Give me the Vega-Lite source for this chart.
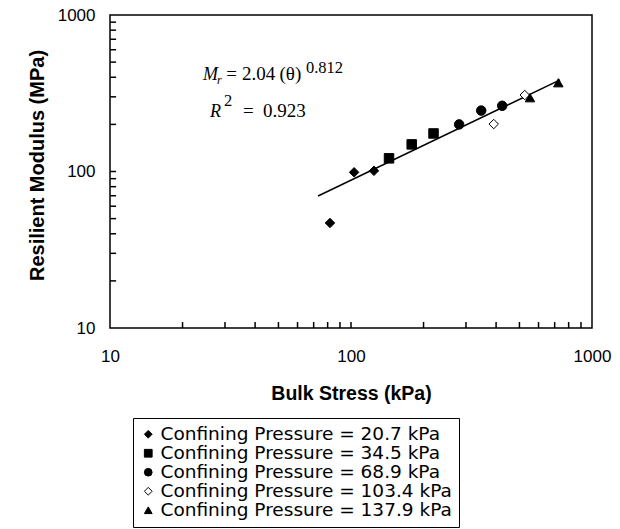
{
  "$schema": "https://vega.github.io/schema/vega-lite/v6.json",
  "width": 482,
  "height": 313,
  "autosize": {"type": "none"},
  "padding": {"left": 110, "top": 15, "right": 28, "bottom": 201},
  "config": {
    "view": {"stroke": "black", "strokeWidth": 1.5},
    "font": "Liberation Sans",
    "background": "white"
  },
  "datasets": {
    "points": [
      {"bulk": 81.8, "mr": 46.9, "series": "Confining Pressure = 20.7 kPa"},
      {"bulk": 103, "mr": 98.8, "series": "Confining Pressure = 20.7 kPa"},
      {"bulk": 124.5, "mr": 101, "series": "Confining Pressure = 20.7 kPa"},
      {"bulk": 143.8, "mr": 121.4, "series": "Confining Pressure = 34.5 kPa"},
      {"bulk": 178.6, "mr": 149, "series": "Confining Pressure = 34.5 kPa"},
      {"bulk": 220, "mr": 175, "series": "Confining Pressure = 34.5 kPa"},
      {"bulk": 281, "mr": 200, "series": "Confining Pressure = 68.9 kPa"},
      {"bulk": 347, "mr": 245, "series": "Confining Pressure = 68.9 kPa"},
      {"bulk": 424, "mr": 263, "series": "Confining Pressure = 68.9 kPa"},
      {"bulk": 391, "mr": 201, "series": "Confining Pressure = 103.4 kPa"},
      {"bulk": 526, "mr": 308, "series": "Confining Pressure = 103.4 kPa"},
      {"bulk": 553, "mr": 296, "series": "Confining Pressure = 137.9 kPa"},
      {"bulk": 725, "mr": 369, "series": "Confining Pressure = 137.9 kPa"}
    ],
    "fit": [
      {"bulk": 73, "mr": 69.7},
      {"bulk": 737, "mr": 385}
    ],
    "xTicks": [
      {"v": 20, "a": 10, "b": 10.92}, {"v": 30, "a": 10, "b": 10.92}, {"v": 40, "a": 10, "b": 10.92},
      {"v": 50, "a": 10, "b": 10.92}, {"v": 60, "a": 10, "b": 10.92}, {"v": 70, "a": 10, "b": 10.92},
      {"v": 80, "a": 10, "b": 10.92}, {"v": 90, "a": 10, "b": 10.92}, {"v": 100, "a": 10, "b": 10.92},
      {"v": 200, "a": 10, "b": 10.92}, {"v": 300, "a": 10, "b": 10.92}, {"v": 400, "a": 10, "b": 10.92},
      {"v": 500, "a": 10, "b": 10.92}, {"v": 600, "a": 10, "b": 10.92}, {"v": 700, "a": 10, "b": 10.92},
      {"v": 800, "a": 10, "b": 10.92}, {"v": 900, "a": 10, "b": 10.92}
    ],
    "yTicks": [
      {"v": 20, "a": 10, "b": 10.6}, {"v": 30, "a": 10, "b": 10.6}, {"v": 40, "a": 10, "b": 10.6},
      {"v": 50, "a": 10, "b": 10.6}, {"v": 60, "a": 10, "b": 10.6}, {"v": 70, "a": 10, "b": 10.6},
      {"v": 80, "a": 10, "b": 10.6}, {"v": 90, "a": 10, "b": 10.6}, {"v": 100, "a": 10, "b": 10.6},
      {"v": 200, "a": 10, "b": 10.6}, {"v": 300, "a": 10, "b": 10.6}, {"v": 400, "a": 10, "b": 10.6},
      {"v": 500, "a": 10, "b": 10.6}, {"v": 600, "a": 10, "b": 10.6}, {"v": 700, "a": 10, "b": 10.6},
      {"v": 800, "a": 10, "b": 10.6}, {"v": 900, "a": 10, "b": 10.6}
    ],
    "eqItalic": [
      {"bulk": 24.3, "mr": 384, "t": "M"},
      {"bulk": 26.0, "mr": 223, "t": "R"}
    ],
    "eqSub": [
      {"bulk": 27.8, "mr": 362, "t": "r"}
    ],
    "eqMain": [
      {"bulk": 30.4, "mr": 384, "t": "="},
      {"bulk": 35.3, "mr": 384, "t": "2.04"},
      {"bulk": 50.5, "mr": 384, "t": "(θ)"},
      {"bulk": 35.6, "mr": 223, "t": "="},
      {"bulk": 43.1, "mr": 223, "t": "0.923"}
    ],
    "eqSup": [
      {"bulk": 65, "mr": 426, "t": "0.812"},
      {"bulk": 29.7, "mr": 262, "t": "2"}
    ]
  },
  "layer": [
    {
      "data": {"name": "fit"},
      "mark": {"type": "line", "color": "black", "strokeWidth": 1.5},
      "encoding": {
        "x": {"field": "bulk", "type": "quantitative", "scale": {"type": "log", "domain": [10, 1000], "nice": false}},
        "y": {"field": "mr", "type": "quantitative", "scale": {"type": "log", "domain": [10, 1000], "nice": false}}
      }
    },
    {
      "data": {"name": "xTicks"},
      "mark": {"type": "rule", "color": "black", "strokeWidth": 1.5, "opacity": 1},
      "encoding": {
        "x": {"field": "v", "type": "quantitative"},
        "y": {"field": "a", "type": "quantitative"},
        "y2": {"field": "b"}
      }
    },
    {
      "data": {"name": "yTicks"},
      "mark": {"type": "rule", "color": "black", "strokeWidth": 1.5, "opacity": 1},
      "encoding": {
        "y": {"field": "v", "type": "quantitative"},
        "x": {"field": "a", "type": "quantitative"},
        "x2": {"field": "b"}
      }
    },
    {
      "data": {"name": "points"},
      "mark": {"type": "point", "filled": true, "stroke": "black", "strokeWidth": 1, "size": 90, "opacity": 1},
      "encoding": {
        "x": {
          "field": "bulk", "type": "quantitative",
          "scale": {"type": "log", "domain": [10, 1000], "nice": false},
          "axis": {
            "title": "Bulk Stress (kPa)",
            "values": [10, 100, 1000],
            "format": "d",
            "labelOverlap": false,
            "labelFlush": false,
            "labelFontSize": 17,
            "labelColor": "black",
            "labelPadding": 20,
            "ticks": false,
            "domain": false,
            "grid": false,
            "titleFontSize": 19.5,
            "titleFontWeight": "bold",
            "titleColor": "black",
            "titlePadding": 20
          }
        },
        "y": {
          "field": "mr", "type": "quantitative",
          "scale": {"type": "log", "domain": [10, 1000], "nice": false},
          "axis": {
            "title": "Resilient Modulus (MPa)",
            "values": [10, 100, 1000],
            "format": "d",
            "labelOverlap": false,
            "labelFlush": false,
            "labelFontSize": 17,
            "labelColor": "black",
            "labelPadding": 15,
            "ticks": false,
            "domain": false,
            "grid": false,
            "titleFontSize": 20,
            "titleFontWeight": "bold",
            "titleColor": "black",
            "titlePadding": 10,
            "titleY": 150
          }
        },
        "shape": {
          "field": "series", "type": "nominal",
          "scale": {
            "domain": ["Confining Pressure = 20.7 kPa", "Confining Pressure = 34.5 kPa", "Confining Pressure = 68.9 kPa", "Confining Pressure = 103.4 kPa", "Confining Pressure = 137.9 kPa"],
            "range": ["diamond", "square", "circle", "diamond", "triangle-up"]
          },
          "legend": {
            "title": null,
            "orient": "none",
            "legendX": 23,
            "legendY": 403,
            "strokeColor": "black",
            "padding": 7,
            "labelFont": "DejaVu Sans",
            "labelFontSize": 18.5,
            "labelColor": "black",
            "labelLimit": 400,
            "labelOffset": 3,
            "symbolOffset": -1,
            "symbolSize": 60,
            "symbolStrokeColor": "black",
            "symbolStrokeWidth": 1,
            "rowPadding": 0,
            "fillColor": "white"
          }
        },
        "fill": {
          "field": "series", "type": "nominal",
          "scale": {
            "domain": ["Confining Pressure = 20.7 kPa", "Confining Pressure = 34.5 kPa", "Confining Pressure = 68.9 kPa", "Confining Pressure = 103.4 kPa", "Confining Pressure = 137.9 kPa"],
            "range": ["black", "black", "black", "white", "black"]
          },
          "legend": {
            "title": null,
            "orient": "none",
            "legendX": 23,
            "legendY": 403,
            "strokeColor": "black",
            "padding": 7,
            "labelFont": "DejaVu Sans",
            "labelFontSize": 18.5,
            "labelColor": "black",
            "labelLimit": 400,
            "labelOffset": 3,
            "symbolOffset": -1,
            "symbolSize": 60,
            "symbolStrokeColor": "black",
            "symbolStrokeWidth": 1,
            "rowPadding": 0,
            "fillColor": "white"
          }
        },
        "stroke": {
          "field": "series", "type": "nominal",
          "scale": {
            "domain": ["Confining Pressure = 20.7 kPa", "Confining Pressure = 34.5 kPa", "Confining Pressure = 68.9 kPa", "Confining Pressure = 103.4 kPa", "Confining Pressure = 137.9 kPa"],
            "range": ["black", "black", "black", "black", "black"]
          },
          "legend": {
            "title": null,
            "orient": "none",
            "legendX": 23,
            "legendY": 403,
            "strokeColor": "black",
            "padding": 7,
            "labelFont": "DejaVu Sans",
            "labelFontSize": 18.5,
            "labelColor": "black",
            "labelLimit": 400,
            "labelOffset": 3,
            "symbolOffset": -1,
            "symbolSize": 60,
            "symbolStrokeWidth": 1,
            "rowPadding": 0,
            "fillColor": "white"
          }
        }
      }
    },
    {
      "data": {"name": "eqItalic"},
      "mark": {"type": "text", "font": "Liberation Serif", "fontStyle": "italic", "fontSize": 18, "align": "left", "baseline": "alphabetic", "color": "black"},
      "encoding": {
        "x": {"field": "bulk", "type": "quantitative"},
        "y": {"field": "mr", "type": "quantitative"},
        "text": {"field": "t"}
      }
    },
    {
      "data": {"name": "eqSub"},
      "mark": {"type": "text", "font": "Liberation Serif", "fontStyle": "italic", "fontSize": 12, "align": "left", "baseline": "alphabetic", "color": "black"},
      "encoding": {
        "x": {"field": "bulk", "type": "quantitative"},
        "y": {"field": "mr", "type": "quantitative"},
        "text": {"field": "t"}
      }
    },
    {
      "data": {"name": "eqMain"},
      "mark": {"type": "text", "font": "Liberation Serif", "fontSize": 19, "align": "left", "baseline": "alphabetic", "color": "black"},
      "encoding": {
        "x": {"field": "bulk", "type": "quantitative"},
        "y": {"field": "mr", "type": "quantitative"},
        "text": {"field": "t"}
      }
    },
    {
      "data": {"name": "eqSup"},
      "mark": {"type": "text", "font": "Liberation Serif", "fontSize": 16.5, "align": "left", "baseline": "alphabetic", "color": "black"},
      "encoding": {
        "x": {"field": "bulk", "type": "quantitative"},
        "y": {"field": "mr", "type": "quantitative"},
        "text": {"field": "t"}
      }
    }
  ]
}
